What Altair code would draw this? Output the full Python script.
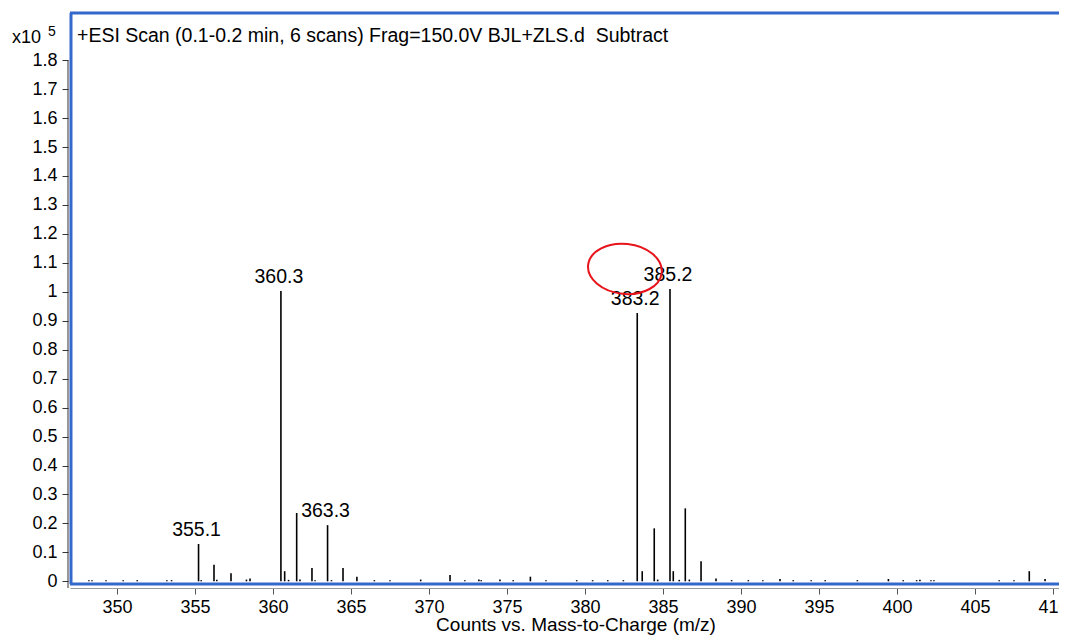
import altair as alt
import pandas as pd

# ---- data (intensity in units of 1e5 counts) ----
peak_mz = [348.2, 348.4, 349.3, 350.4, 351.3, 353.2, 353.5,
           355.23, 355.4, 356.22, 356.4, 357.31, 358.3, 358.53,
           360.51, 360.75, 361.0, 361.52, 361.73, 362.5, 362.7, 363.5, 363.75,
           364.49, 365.38, 366.5, 367.5, 369.47, 371.35, 372.3, 373.2, 373.35,
           374.55, 375.4, 376.5, 377.5, 379.47, 380.49, 381.46, 382.46,
           383.35, 383.67, 384.44, 384.66, 385.45, 385.66, 386.04, 386.43, 386.69,
           387.44, 388.4, 389.4, 390.47, 391.4, 392.5, 393.35, 394.5, 395.4,
           397.46, 399.45, 400.4, 401.26, 401.47, 402.18, 402.37, 406.55, 407.5,
           408.48, 409.49]
peak_int = [0.004, 0.004, 0.004, 0.004, 0.004, 0.004, 0.004,
            0.129, 0.004, 0.057, 0.005, 0.028, 0.006, 0.010,
            1.003, 0.035, 0.005, 0.236, 0.006, 0.046, 0.004, 0.194, 0.004,
            0.046, 0.016, 0.004, 0.004, 0.006, 0.022, 0.004, 0.006, 0.004,
            0.006, 0.004, 0.016, 0.004, 0.004, 0.004, 0.004, 0.004,
            0.927, 0.035, 0.183, 0.006, 1.010, 0.035, 0.005, 0.252, 0.006,
            0.069, 0.010, 0.004, 0.004, 0.004, 0.008, 0.004, 0.004, 0.004,
            0.004, 0.008, 0.004, 0.004, 0.005, 0.004, 0.004, 0.004, 0.004,
            0.035, 0.008]

label_mz = [355.23, 360.51, 363.5, 383.35, 385.45]
label_int = [0.129, 1.003, 0.194, 0.927, 1.010]
label_text = ["355.1", "360.3", "363.3", "383.2", "385.2"]

x_ticks = [350, 355, 360, 365, 370, 375, 380, 385, 390, 395, 400, 405, 410]
y_ticks = [0, 0.1, 0.2, 0.3, 0.4, 0.5, 0.6, 0.7, 0.8, 0.9, 1.0,
           1.1, 1.2, 1.3, 1.4, 1.5, 1.6, 1.7, 1.8]

circle_mz = [382.56]
circle_int = [1.079]

title_text = "+ESI Scan (0.1-0.2 min, 6 scans) Frag=150.0V BJL+ZLS.d\u00a0 Subtract"
x_title = "Counts vs. Mass-to-Charge (m/z)"

W, H = 989, 571
FONT = "Liberation Sans"
BLUE = "#3468CC"

xscale = alt.Scale(domain=[346.99, 410.385], nice=False, zero=False)
yscale = alt.Scale(domain=[-0.0093, 1.963], nice=False, zero=False)

xaxis = alt.Axis(values=x_ticks, title=None, grid=False, offset=4,
                 domainColor="#9a9a9a", tickColor="#555555", tickSize=6,
                 labelFontSize=18, labelFont=FONT, labelColor="black",
                 labelPadding=4, labelFlush=False, labelOverlap=False)
yaxis = alt.Axis(values=y_ticks, title=None, grid=False, offset=2,
                 domain=False, tickColor="#333333", tickSize=6,
                 labelFontSize=18, labelFont=FONT, labelColor="black",
                 labelPadding=5, format="~g", labelOverlap=False)

peaks_df = pd.DataFrame({"mz": peak_mz, "inten": peak_int, "base": [0.0] * len(peak_mz)})
labels_df = pd.DataFrame({"mz": label_mz, "inten": label_int, "text": label_text})
circle_df = pd.DataFrame({"mz": circle_mz, "inten": circle_int})
one = pd.DataFrame({"k": [0]})

peaks = alt.Chart(peaks_df).mark_rule(color="black", strokeWidth=1.6).encode(
    x=alt.X("mz:Q", scale=xscale, axis=xaxis),
    y=alt.Y("base:Q", scale=yscale, axis=yaxis),
    y2="inten:Q",
)

labels = alt.Chart(labels_df).mark_text(
    font=FONT, fontSize=19.5, color="black", baseline="alphabetic", dy=-8, dx=-2
).encode(
    x=alt.X("mz:Q", scale=xscale, axis=xaxis),
    y=alt.Y("inten:Q", scale=yscale, axis=yaxis),
    text="text:N",
)

# y axis line (from 1.8 down to the x axis)
yline = alt.Chart(one).mark_rule(color="#333333", strokeWidth=1).encode(
    x=alt.value(-2), y=alt.Y("datum_y:Q", scale=yscale, axis=yaxis), y2=alt.value(H + 4)
).transform_calculate(datum_y="1.8")

# blue frame (top, left, bottom)
frame_top = alt.Chart(one).mark_rule(color=BLUE, strokeWidth=3).encode(
    x=alt.value(0), x2=alt.value(W), y=alt.value(0))
frame_left = alt.Chart(one).mark_rule(color=BLUE, strokeWidth=3).encode(
    x=alt.value(1), y=alt.value(0), y2=alt.value(H))
frame_bot = alt.Chart(one).mark_rule(color=BLUE, strokeWidth=3).encode(
    x=alt.value(0), x2=alt.value(W), y=alt.value(H))

title = alt.Chart(one).mark_text(
    font=FONT, fontSize=19.5, color="black", align="left", baseline="alphabetic"
).encode(x=alt.value(7), y=alt.value(29), text=alt.value(title_text))

x10 = alt.Chart(one).mark_text(
    font=FONT, fontSize=18, color="black", align="left", baseline="alphabetic"
).encode(x=alt.value(-58), y=alt.value(30), text=alt.value("x10"))
exp5 = alt.Chart(one).mark_text(
    font=FONT, fontSize=14, color="black", align="left", baseline="alphabetic"
).encode(x=alt.value(-22), y=alt.value(23), text=alt.value("5"))

xt = alt.Chart(one).mark_text(
    font=FONT, fontSize=19, color="black", align="center", baseline="alphabetic"
).encode(x=alt.value(506), y=alt.value(618), text=alt.value(x_title))

ellipse = alt.Chart(circle_df).mark_point(
    shape="M -1 0 A 1 0.676 0 1 0 1 0 A 1 0.676 0 1 0 -1 0 Z",
    filled=False, color="#E8141B", strokeWidth=2, size=5476, opacity=1, angle=6
).encode(
    x=alt.X("mz:Q", scale=xscale, axis=xaxis),
    y=alt.Y("inten:Q", scale=yscale, axis=yaxis),
)

chart = alt.layer(
    peaks, labels, yline, frame_top, frame_left, frame_bot, title, x10, exp5, xt, ellipse
).properties(
    width=W, height=H,
    autosize=alt.AutoSizeParams(type="none"),
    padding={"left": 62, "top": 5, "right": 0, "bottom": 51},
).configure_view(stroke=None).configure(background="white")

chart.save("out.html", embed_options={"renderer": "svg", "actions": False})
